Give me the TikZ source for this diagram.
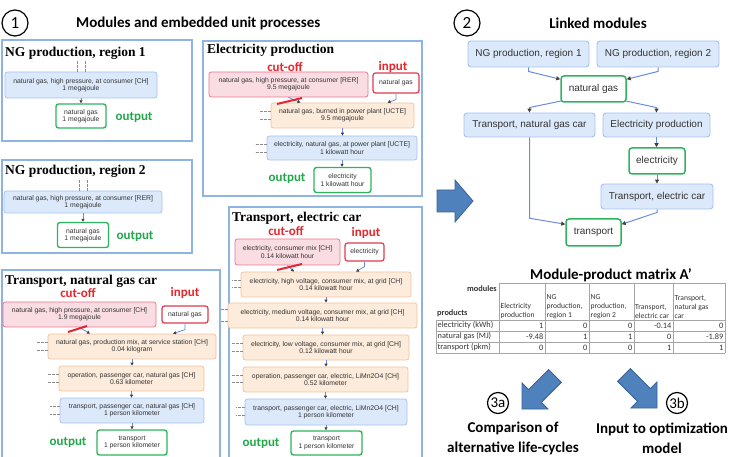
\documentclass[tikz,border=0pt]{standalone}
\usepackage{fontspec}
\setmainfont{Liberation Sans}
\newfontfamily\calfont{Carlito}
\newfontfamily\serfont{Liberation Serif}
\usetikzlibrary{arrows.meta,calc}
\definecolor{panelblue}{HTML}{8EB4E3}
\definecolor{bbfill}{HTML}{DCE9FA}
\definecolor{bbdraw}{HTML}{A4C2F0}
\definecolor{obfill}{HTML}{FDEBDB}
\definecolor{obdraw}{HTML}{F1C39D}
\definecolor{pkfill}{HTML}{FADCE3}
\definecolor{pkdraw}{HTML}{E8768C}
\definecolor{redin}{HTML}{E03A4E}
\definecolor{grn}{HTML}{2DB55D}
\definecolor{grntxt}{HTML}{22A84A}
\definecolor{redtxt}{HTML}{E5262C}
\definecolor{linkblue}{HTML}{6A8CE0}
\definecolor{arrowfill}{HTML}{4F81BD}
\definecolor{arrowdraw}{HTML}{3A6394}
\definecolor{txtgray}{HTML}{333333}
\definecolor{gridgray}{HTML}{A6A6A6}
\begin{document}
\begin{tikzpicture}[x=1pt,y=-1pt,
  panel/.style={draw=panelblue, line width=1.6pt},
  box/.style={rounded corners=2.5pt, line width=0.7pt, inner sep=0pt, align=center,
    font=\fontsize{6.8}{7.4}\selectfont, text=txtgray},
  bbox/.style={box, draw=bbdraw, fill=bbfill},
  obox/.style={box, draw=obdraw, fill=obfill},
  pbox/.style={box, draw=pkdraw, fill=pkfill},
  ibox/.style={box, draw=redin, fill=white, line width=1.2pt},
  gbox/.style={box, draw=grn, fill=white, line width=1.4pt},
  sz/.style 2 args={minimum width=#1, minimum height=#2},
  ptitle/.style={font=\serfont\bfseries\fontsize{13.5}{14}\selectfont, anchor=base west, inner sep=0pt},
  outlbl/.style={font=\calfont\bfseries\fontsize{13}{14}\selectfont, text=grntxt, inner sep=0pt},
  redlbl/.style={font=\calfont\bfseries\fontsize{13}{14}\selectfont, text=redtxt, inner sep=0pt},
  link/.style={draw=linkblue, line width=0.8pt, -{Triangle[length=3pt,width=3pt,color=black!75]}},
  cutline/.style={draw=redtxt, line width=2pt},
  stub/.style={draw=black!45, line width=0.6pt, dash pattern=on 2.5pt off 1.5pt},
  mbox/.style={rounded corners=3pt, draw=bbdraw, fill=bbfill, line width=0.9pt,
    font=\fontsize{10}{12}\selectfont, text=txtgray, inner sep=0pt},
  mgbox/.style={rounded corners=3pt, draw=grn, fill=white, line width=1.5pt,
    font=\fontsize{10}{12}\selectfont, text=txtgray, inner sep=0pt},
  mlink/.style={draw=linkblue, line width=1pt, -{Triangle[length=4pt,width=4pt,color=black!75]}},
  bigarrow/.style={fill=arrowfill, draw=arrowdraw, line width=0.8pt},
  num/.style={draw=black, circle, line width=1.2pt, minimum size=26pt, inner sep=0pt,
    font=\calfont\fontsize{17}{17}\selectfont},
  head/.style={font=\calfont\bfseries\fontsize{15}{16}\selectfont, inner sep=0pt},
  cell/.style={font=\calfont\fontsize{8.3}{9.5}\selectfont, text=txtgray, inner sep=0pt},
  hcell/.style={cell, font=\calfont\fontsize{7.6}{9.2}\selectfont, align=left, anchor=south west},
  grid/.style={draw=gridgray, line width=0.6pt},
  btxt/.style={font=\calfont\bfseries\fontsize{15}{20}\selectfont, align=center, inner sep=0pt}
]
\useasboundingbox (0,0) rectangle (729,457);

% ---------- headings ----------
\node[num] (n1c) at (15,23) {1};
\node[head, anchor=west] (h1) at (76,23) {Modules and embedded unit processes};
\node[num] (n2c) at (467,23) {2};
\node[head] (h2) at (598,23) {Linked modules};

% ---------- panels ----------
\draw[panel] (2,40) rectangle (192,141);
\draw[panel] (2,160) rectangle (192,253);
\draw[panel] (203,41) rectangle (422,196);
\draw[panel] (2,459) -- (2,270) -- (220,270) -- (220,459);
\draw[panel] (229,459) -- (229,207) -- (422,207) -- (422,459);

\node[ptitle] (tng1) at (5,57) {NG production, region 1};
\node[ptitle] (tng2) at (5,175) {NG production, region 2};
\node[ptitle] (tel) at (207,54) {Electricity production};
\node[ptitle] (ttng) at (5,285) {Transport, natural gas car};
\node[ptitle] (ttec) at (232,222) {Transport, electric car};

% ---------- NG production, region 1 ----------
\node[bbox, sz={152}{26}] (a1) at (81,85) {natural gas, high pressure, at consumer [CH]\\1 megajoule};
\node[gbox, sz={50}{24}] (a2) at (81,116) {natural gas\\1 megajoule};
\node[outlbl] (a3) at (134,117) {output};
\draw[link] (a1.south) -- (a2.north);
\draw[stub] ([xshift=-4pt]a1.north) -- ++(0,-12);
\draw[stub] ([xshift=4pt]a1.north) -- ++(0,-12);

% ---------- NG production, region 2 ----------
\node[bbox, sz={158}{22}] (b1) at (83,202) {natural gas, high pressure, at consumer [RER]\\1 megajoule};
\node[gbox, sz={51}{25}] (b2) at (83,235) {natural gas\\1 megajoule};
\node[outlbl] (b3) at (135,236) {output};
\draw[link] (b1.south) -- (b2.north);
\draw[stub] ([xshift=-4pt]b1.north) -- ++(0,-11);
\draw[stub] ([xshift=4pt]b1.north) -- ++(0,-11);

% ---------- Electricity production ----------
\node[redlbl] (c0) at (285,67) {cut-off};
\node[redlbl] (c00) at (393,67) {input};
\node[pbox, sz={159}{25}] (c1) at (288.5,84.5) {natural gas, high pressure, at consumer [RER]\\9.5 megajoule};
\node[ibox, sz={46}{20}] (c2) at (396,83) {natural gas};
\node[obox, sz={143}{25}] (c3) at (342.5,115.5) {natural gas, burned in power plant [UCTE]\\9.5 megajoule};
\node[bbox, sz={150}{24}] (c4) at (342,148) {electricity, natural gas, at power plant [UCTE]\\1 kilowatt hour};
\node[gbox, sz={57}{25}] (c5) at (342.5,180) {electricity\\1 kilowatt hour};
\node[outlbl] (c6) at (287,178) {output};
\draw[link] (c1.south) -- ([xshift=-42pt]c3.north);
\draw[link] (c2.south) -- ++(0,6) -- ([xshift=45pt]c3.north);
\draw[link] (c3.south) -- (c3.south |- c4.north);
\draw[link] (c4.south) -- (c4.south |- c5.north);
\draw[cutline] (277,104) -- (302,98);
\draw[stub] ([yshift=4pt]c3.west) -- ++(-11,0);
\draw[stub] ([yshift=-4pt]c3.west) -- ++(-11,0);
\draw[stub] ([yshift=4pt]c4.west) -- ++(-12,0);
\draw[stub] ([yshift=-4pt]c4.west) -- ++(-12,0);

% ---------- Transport, electric car ----------
\node[redlbl] (d0) at (286,231) {cut-off};
\node[redlbl] (d00) at (366,233) {input};
\node[pbox, sz={105}{26}] (d1) at (287.5,252) {electricity, consumer mix [CH]\\0.14 kilowatt hour};
\node[ibox, sz={39}{18}] (d2) at (364.5,252) {electricity};
\node[obox, sz={170}{25}] (d3) at (326,284.5) {electricity, high voltage, consumer mix, at grid [CH]\\0.14 kilowatt hour};
\node[obox, sz={189}{25}] (d4) at (322.5,315.5) {electricity, medium voltage, consumer mix, at grid [CH]\\0.14 kilowatt hour};
\node[obox, sz={166}{25}] (d5) at (326,347.5) {electricity, low voltage, consumer mix, at grid [CH]\\0.12 kilowatt hour};
\node[obox, sz={165}{25}] (d6) at (325.5,379.5) {operation, passenger car, electric, LiMn2O4 [CH]\\0.52 kilometer};
\node[bbox, sz={162}{26}] (d7) at (326,412) {transport, passenger car, electric, LiMn2O4 [CH]\\1 person kilometer};
\node[gbox, sz={71}{24}] (d8) at (326.5,443) {transport\\1 person kilometer};
\node[outlbl] (d9) at (261,443) {output};
\draw[link] (d1.south) -- ([xshift=-32pt]d3.north);
\draw[link] (d2.south) -- ++(0,5) -- ([xshift=30pt]d3.north);
\draw[link] (d3.south) -- (d3.south |- d4.north);
\draw[link] (d4.south) -- (d4.south |- d5.north);
\draw[link] (d5.south) -- (d5.south |- d6.north);
\draw[link] (d6.south) -- (d6.south |- d7.north);
\draw[link] (d7.south) -- (d7.south |- d8.north);
\draw[cutline] (277,270) -- (302,264);
\draw[stub] ([yshift=4pt]d3.west) -- ++(-9,0);
\draw[stub] ([yshift=-3pt]d3.west) -- ++(-9,0);
\draw[stub] ([yshift=6pt]d4.west) -- ++(-8,0);
\draw[stub] ([yshift=-6pt]d4.west) -- ++(-8,0);
\draw[stub] ([yshift=4pt]d5.west) -- ++(-11,0);
\draw[stub] ([yshift=-4pt]d5.west) -- ++(-11,0);
\draw[stub] ([yshift=4pt]d6.west) -- ++(-11,0);
\draw[stub] ([yshift=-3pt]d6.west) -- ++(-11,0);
\draw[stub] ([yshift=5pt]d7.west) -- ++(-9,0);
\draw[stub] ([yshift=-3pt]d7.west) -- ++(-9,0);

% ---------- Transport, natural gas car ----------
\node[redlbl] (e0) at (78,293) {cut-off};
\node[redlbl] (e00) at (185,293) {input};
\node[pbox, sz={153}{25}] (e1) at (79.5,314.5) {natural gas, high pressure, at consumer [CH]\\1.9 megajoule};
\node[ibox, sz={46}{17}] (e2) at (185,314.5) {natural gas};
\node[obox, sz={168}{25}] (e3) at (132,346.5) {natural gas, production mix, at service station [CH]\\0.04 kilogram};
\node[obox, sz={145}{25}] (e4) at (131.5,378.5) {operation, passenger car, natural gas [CH]\\0.63 kilometer};
\node[bbox, sz={144}{25}] (e5) at (132,410.5) {transport, passenger car, natural gas [CH]\\1 person kilometer};
\node[gbox, sz={70}{25}] (e6) at (132,442.5) {transport\\1 person kilometer};
\node[outlbl] (e7) at (68,442) {output};
\draw[link] (e1.south) -- ([xshift=-42pt]e3.north);
\draw[link] (e2.south) -- ++(0,6) -- ([xshift=41pt]e3.north);
\draw[link] (e3.south) -- (e3.south |- e4.north);
\draw[link] (e4.south) -- (e4.south |- e5.north);
\draw[link] (e5.south) -- (e5.south |- e6.north);
\draw[cutline] (68,332) -- (87,326);
\draw[stub] ([yshift=4pt]e3.west) -- ++(-11,0);
\draw[stub] ([yshift=-4pt]e3.west) -- ++(-11,0);
\draw[stub] ([yshift=4pt]e4.west) -- ++(-11,0);
\draw[stub] ([yshift=-4pt]e4.west) -- ++(-11,0);
\draw[stub] ([yshift=4pt]e5.west) -- ++(-10,0);
\draw[stub] ([yshift=-4pt]e5.west) -- ++(-10,0);

% ---------- big arrow ----------
\draw[bigarrow] (437,190) -- (455,190) -- (455,180) -- (473,201) -- (455,222) -- (455,212) -- (437,212) -- cycle;

% ---------- Linked modules ----------
\node[mbox, sz={121}{26}] (L1) at (528.5,54) {NG production, region 1};
\node[mbox, sz={122}{26}] (L2) at (658,54) {NG production, region 2};
\node[mgbox, sz={65}{26}] (LG) at (593.5,89) {natural gas};
\node[mbox, sz={131}{24}] (LT) at (529.5,125) {Transport, natural gas car};
\node[mbox, sz={107}{24}] (LE) at (656.5,125) {Electricity production};
\node[mgbox, sz={56}{26}] (LEl) at (657,161) {electricity};
\node[mbox, sz={112}{25}] (LTE) at (657,196.5) {Transport, electric car};
\node[mgbox, sz={55}{27}] (LTr) at (593.5,232.5) {transport};
\draw[mlink] (L1.south) -- ++(0,4) -- ([yshift=-4pt]LG.north west);
\draw[mlink] (L2.south) -- ++(0,4) -- ([yshift=-4pt]LG.north east);
\draw[mlink] ([xshift=2pt,yshift=2pt]LG.south west) -- ($(LT.north)+(0,-5)$) -- (LT.north);
\draw[mlink] ([xshift=-2pt,yshift=2pt]LG.south east) -- ($(LE.north)+(0,-5)$) -- (LE.north);
\draw[mlink] (LE.south) -- (LE.south |- LEl.north);
\draw[mlink] (LEl.south) -- (LEl.south |- LTE.north);
\draw[mlink] (LT.south) -- (LT.south |- LTr.north) -- ([yshift=-6pt]LTr.north west);
\draw[mlink] (LTE.south) -- ++(0,3) -- ([yshift=-6pt]LTr.north east);

% ---------- matrix ----------
\node[head] (mt) at (611,275) {Module-product matrix A’};
\draw[grid] (499,283) -- (725,283);
\foreach \yy in {320,331,342,353} \draw[grid] (436,\yy) -- (725,\yy);
\foreach \xx in {499,545,589,634,673,725} \draw[grid] (\xx,283) -- (\xx,353);
\draw[grid] (436,320) -- (436,353);
\node[cell, font=\calfont\bfseries\fontsize{8.3}{9.5}\selectfont, anchor=east] (mmod) at (497,289) {modules};
\node[cell, font=\calfont\bfseries\fontsize{8.3}{9.5}\selectfont, anchor=west] (mprod) at (437,313) {products};
\node[hcell] (hc1) at (500.5,319) {Electricity\\production};
\node[hcell] (hc2) at (546.5,319) {NG\\production,\\region 1};
\node[hcell] (hc3) at (590.5,319) {NG\\production,\\region 2};
\node[hcell] (hc4) at (635,319) {Transport,\\electric car};
\node[hcell] (hc5) at (674.5,319) {Transport,\\natural gas\\car};
\node[cell, anchor=west] (r1) at (437.5,325.5) {electricity (kWh)};
\node[cell, anchor=west] (r2) at (437.5,336.5) {natural gas (MJ)};
\node[cell, anchor=west] (r3) at (437.5,347.5) {transport (pkm)};
\node[cell, anchor=east] (v11) at (543.5,325.5) {1};
\node[cell, anchor=east] (v12) at (587.5,325.5) {0};
\node[cell, anchor=east] (v13) at (632.5,325.5) {0};
\node[cell, anchor=east] (v14) at (671.5,325.5) {-0.14};
\node[cell, anchor=east] (v15) at (723.5,325.5) {0};
\node[cell, anchor=east] (v21) at (543.5,336.5) {-9.48};
\node[cell, anchor=east] (v22) at (587.5,336.5) {1};
\node[cell, anchor=east] (v23) at (632.5,336.5) {1};
\node[cell, anchor=east] (v24) at (671.5,336.5) {0};
\node[cell, anchor=east] (v25) at (723.5,336.5) {-1.89};
\node[cell, anchor=east] (v31) at (543.5,347.5) {0};
\node[cell, anchor=east] (v32) at (587.5,347.5) {0};
\node[cell, anchor=east] (v33) at (632.5,347.5) {0};
\node[cell, anchor=east] (v34) at (671.5,347.5) {1};
\node[cell, anchor=east] (v35) at (723.5,347.5) {1};

% ---------- bottom arrows ----------
\draw[bigarrow] (522,409) -- (548,409) -- (541.4,402.4) -- (561.4,382.4) -- (548.6,369.6) -- (528.6,389.6) -- (522,383) -- cycle;
\draw[bigarrow] (657,408) -- (657,382) -- (650.4,388.6) -- (630.4,368.6) -- (617.6,381.4) -- (637.6,401.4) -- (631,408) -- cycle;
\node[num, minimum size=21pt, font=\calfont\fontsize{15}{15}\selectfont] (n3a) at (498,403) {3a};
\node[num, minimum size=21pt, font=\calfont\fontsize{15}{15}\selectfont] (n3b) at (677,403) {3b};
\node[btxt] (c3a) at (513,438) {Comparison of\\alternative life-cycles};
\node[btxt] (c3b) at (662,438) {Input to optimization\\model};
\end{tikzpicture}
\end{document}
